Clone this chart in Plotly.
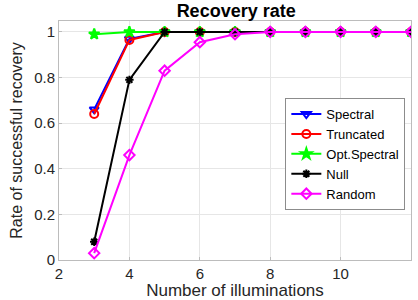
import plotly.graph_objects as go

x = [3, 4, 5, 6, 7, 8, 9, 10, 11, 12]
spectral = [0.66, 0.97, 1, 1, 1, 1, 1, 1, 1, 1]
truncated = [0.64, 0.965, 1, 1, 1, 1, 1, 1, 1, 1]
opt_spectral = [0.99, 1, 1, 1, 1, 1, 1, 1, 1, 1]
null = [0.08, 0.79, 1, 1, 1, 1, 1, 1, 1, 1]
random_ = [0.03, 0.46, 0.83, 0.955, 0.99, 1, 1, 1, 1, 1]

series = [
    ("Spectral", spectral, "#0000ff", "triangle-down-open", 8),
    ("Truncated", truncated, "#ff0000", "circle-open", 8),
    ("Opt.Spectral", opt_spectral, "#00ff00", "star", 8),
    ("Null", null, "#000000", "asterisk-open", 7),
    ("Random", random_, "#ff00ff", "diamond-open", 8),
]

fig = go.Figure()
for name, y, c, sym, sz in series:
    fig.add_trace(go.Scatter(
        x=x, y=y, name=name, mode="lines+markers",
        line=dict(color=c, width=2),
        marker=dict(symbol=sym, size=sz, color=c, line=dict(color=c, width=2)),
    ))

font = "Liberation Sans, Arial, sans-serif"
fig.update_layout(
    width=418, height=300,
    margin=dict(l=59, r=7, t=21, b=40),
    paper_bgcolor="white", plot_bgcolor="white",
    font=dict(family=font, size=15, color="#262626"),
    title=dict(text="<b>Recovery rate</b>", x=0.565, xanchor="center", y=0.985, yanchor="top",
               font=dict(size=18, color="black")),
    xaxis=dict(range=[2, 12], tickvals=[2, 4, 6, 8, 10, 12], showgrid=True, gridcolor="#e6e6e6",
               showline=True, linecolor="#bcbcbc", mirror=True, ticks="inside", ticklen=3,
               tickcolor="#bcbcbc", zeroline=False,
               title=dict(text="Number of illuminations", standoff=0, font=dict(size=17)),
               tickfont=dict(size=15)),
    yaxis=dict(range=[0, 1.048], tickvals=[0, 0.2, 0.4, 0.6, 0.8, 1],
               ticktext=["0", "0.2", "0.4", "0.6", "0.8", "1"], showgrid=True, gridcolor="#e6e6e6",
               showline=True, linecolor="#bcbcbc", mirror=True, ticks="inside", ticklen=3,
               tickcolor="#bcbcbc", zeroline=False,
               title=dict(text="Rate of successful recovery", standoff=7, font=dict(size=16)),
               tickfont=dict(size=15)),
    legend=dict(x=0.643, y=0.443, xanchor="left", yanchor="middle", bgcolor="white",
                bordercolor="#8c8c8c", borderwidth=1, font=dict(size=13, color="black"),
                tracegroupgap=0, itemwidth=30),
    showlegend=True,
)

fig.write_html("out.html", config={"displayModeBar": False},
               post_script="document.body.style.margin='0';")
